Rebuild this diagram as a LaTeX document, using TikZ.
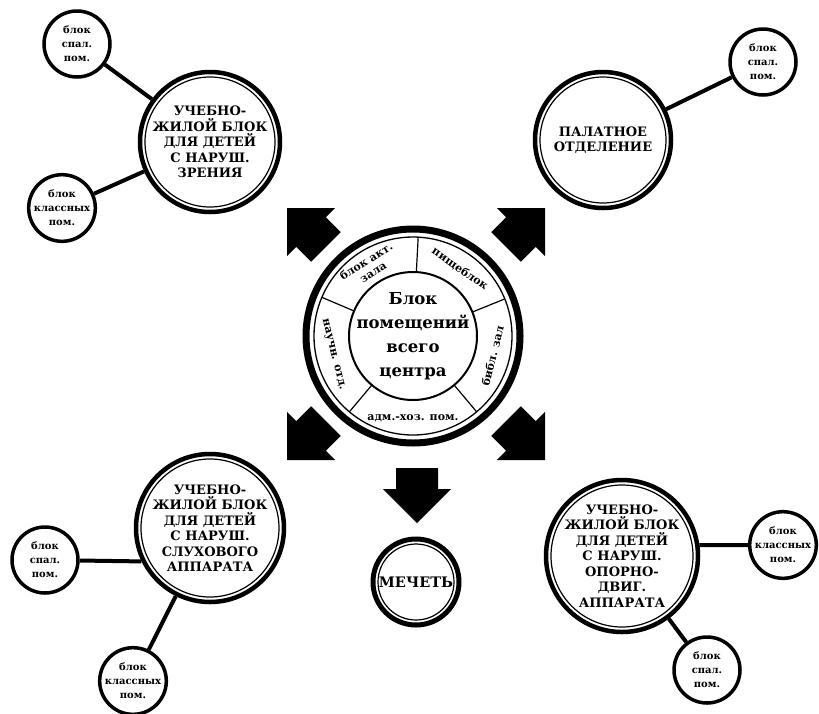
\documentclass[tikz,border=0pt]{standalone}
\usepackage{fontspec}
\setmainfont{DejaVu Serif}
\newcommand{\bigfont}{\fontsize{13}{15.5}\selectfont\bfseries}
\newcommand{\smallfont}{\fontsize{10}{14}\selectfont\bfseries}
\newcommand{\corefont}{\fontsize{16.5}{24}\selectfont\bfseries}
\newcommand{\ringfont}{\fontsize{11}{13}\selectfont\bfseries}
% thin inner line of a double circle
\newcommand{\inring}[2]{\draw[line width=1.2pt] (#1.center) circle (#2pt);}
\begin{document}
\begin{tikzpicture}[x=1pt,y=-1pt,
  bigc/.style={circle,draw,line width=4.5pt,inner sep=0pt,align=center,font=\bigfont},
  smallc/.style={circle,draw,line width=3.5pt,minimum size=66pt,inner sep=0pt,align=center,font=\smallfont},
  ringlbl/.style={align=center,font=\ringfont,inner sep=0pt},
  link/.style={line width=4pt},
  blockarrow/.pic={\fill (0,0) -- (-34,-34) -- (-34,-21) -- (-55,-21) -- (-55,21) -- (-34,21) -- (-34,34) -- cycle;}]
\useasboundingbox (0,0) rectangle (819,713);

% centre block
\begin{scope}[shift={(413,336)},y=1pt]
\node[circle,draw,line width=2pt,minimum size=128pt,inner sep=-8pt,align=center,font=\corefont] (core) at (0,0) {Блок\\помещений\\всего\\центра};
\draw[line width=1.3pt] (0,0) circle (99pt);
\draw[line width=7pt] (0,0) circle (107pt);
\foreach \a in {87,22,-50,-130,157}
  \draw[line width=1.2pt] (\a:64pt) -- (\a:99pt);
\node[ringlbl,rotate=32] (akt) at (122:82pt) {блок акт.\\зала};
\node[ringlbl,rotate=-35] (pish) at (55:82pt) {пищеблок};
\node[ringlbl,rotate=76] (bibl) at (-14:82pt) {библ. зал};
\node[ringlbl] (adm) at (-90:82pt) {адм.-хоз. пом.};
\node[ringlbl,rotate=-76] (nauch) at (193:82pt) {научн. отд.};
\end{scope}

% arrows
\pic[rotate=135] (arrul) at (287,208) {blockarrow};
\pic[rotate=45] (arrur) at (545,208) {blockarrow};
\pic[rotate=225] (arrll) at (287,460) {blockarrow};
\pic[rotate=-45] (arrlr) at (545,460) {blockarrow};
\pic[rotate=-90] (arrd) at (417,523) {blockarrow};

% big blocks
\node[bigc,minimum size=140pt] (zr) at (210,142) {УЧЕБНО-\\ЖИЛОЙ БЛОК\\ДЛЯ ДЕТЕЙ\\С НАРУШ.\\ЗРЕНИЯ};
\inring{zr}{65}
\node[bigc,minimum size=136pt] (pal) at (603,140) {ПАЛАТНОЕ\\ОТДЕЛЕНИЕ};
\inring{pal}{63}
\node[bigc,minimum size=148pt] (sl) at (210,528) {УЧЕБНО-\\ЖИЛОЙ БЛОК\\ДЛЯ ДЕТЕЙ\\С НАРУШ.\\СЛУХОВОГО\\АППАРАТА};
\inring{sl}{69}
\node[bigc,minimum size=152pt,inner sep=-3pt] (od) at (622,556) {УЧЕБНО-\\ЖИЛОЙ БЛОК\\ДЛЯ ДЕТЕЙ\\С НАРУШ.\\ОПОРНО-\\ДВИГ.\\АППАРАТА};
\inring{od}{71}
\node[bigc,line width=5pt,minimum size=86pt,font=\fontsize{14.5}{16}\selectfont\bfseries] (mech) at (416,582) {МЕЧЕТЬ};
\inring{mech}{38}

% small blocks
\node[smallc] (sp1) at (77,44) {блок\\спал.\\пом.};
\node[smallc] (kl1) at (62,208) {блок\\классных\\пом.};
\node[smallc] (sp2) at (763,62) {блок\\спал.\\пом.};
\node[smallc] (sp3) at (45,560) {блок\\спал.\\пом.};
\node[smallc] (kl2) at (133,681) {блок\\классных\\пом.};
\node[smallc] (kl3) at (783,545) {блок\\классных\\пом.};
\node[smallc] (sp4) at (707,670) {блок\\спал.\\пом.};

% links
\draw[link] (zr) -- (sp1);
\draw[link] (zr) -- (kl1);
\draw[link] (pal) -- (sp2);
\draw[link] (sp3) -- (sl.206);
\draw[link] (sl) -- (kl2);
\draw[link] (kl3) -- (od.8);
\draw[link] (od) -- (sp4);
\end{tikzpicture}
\end{document}
